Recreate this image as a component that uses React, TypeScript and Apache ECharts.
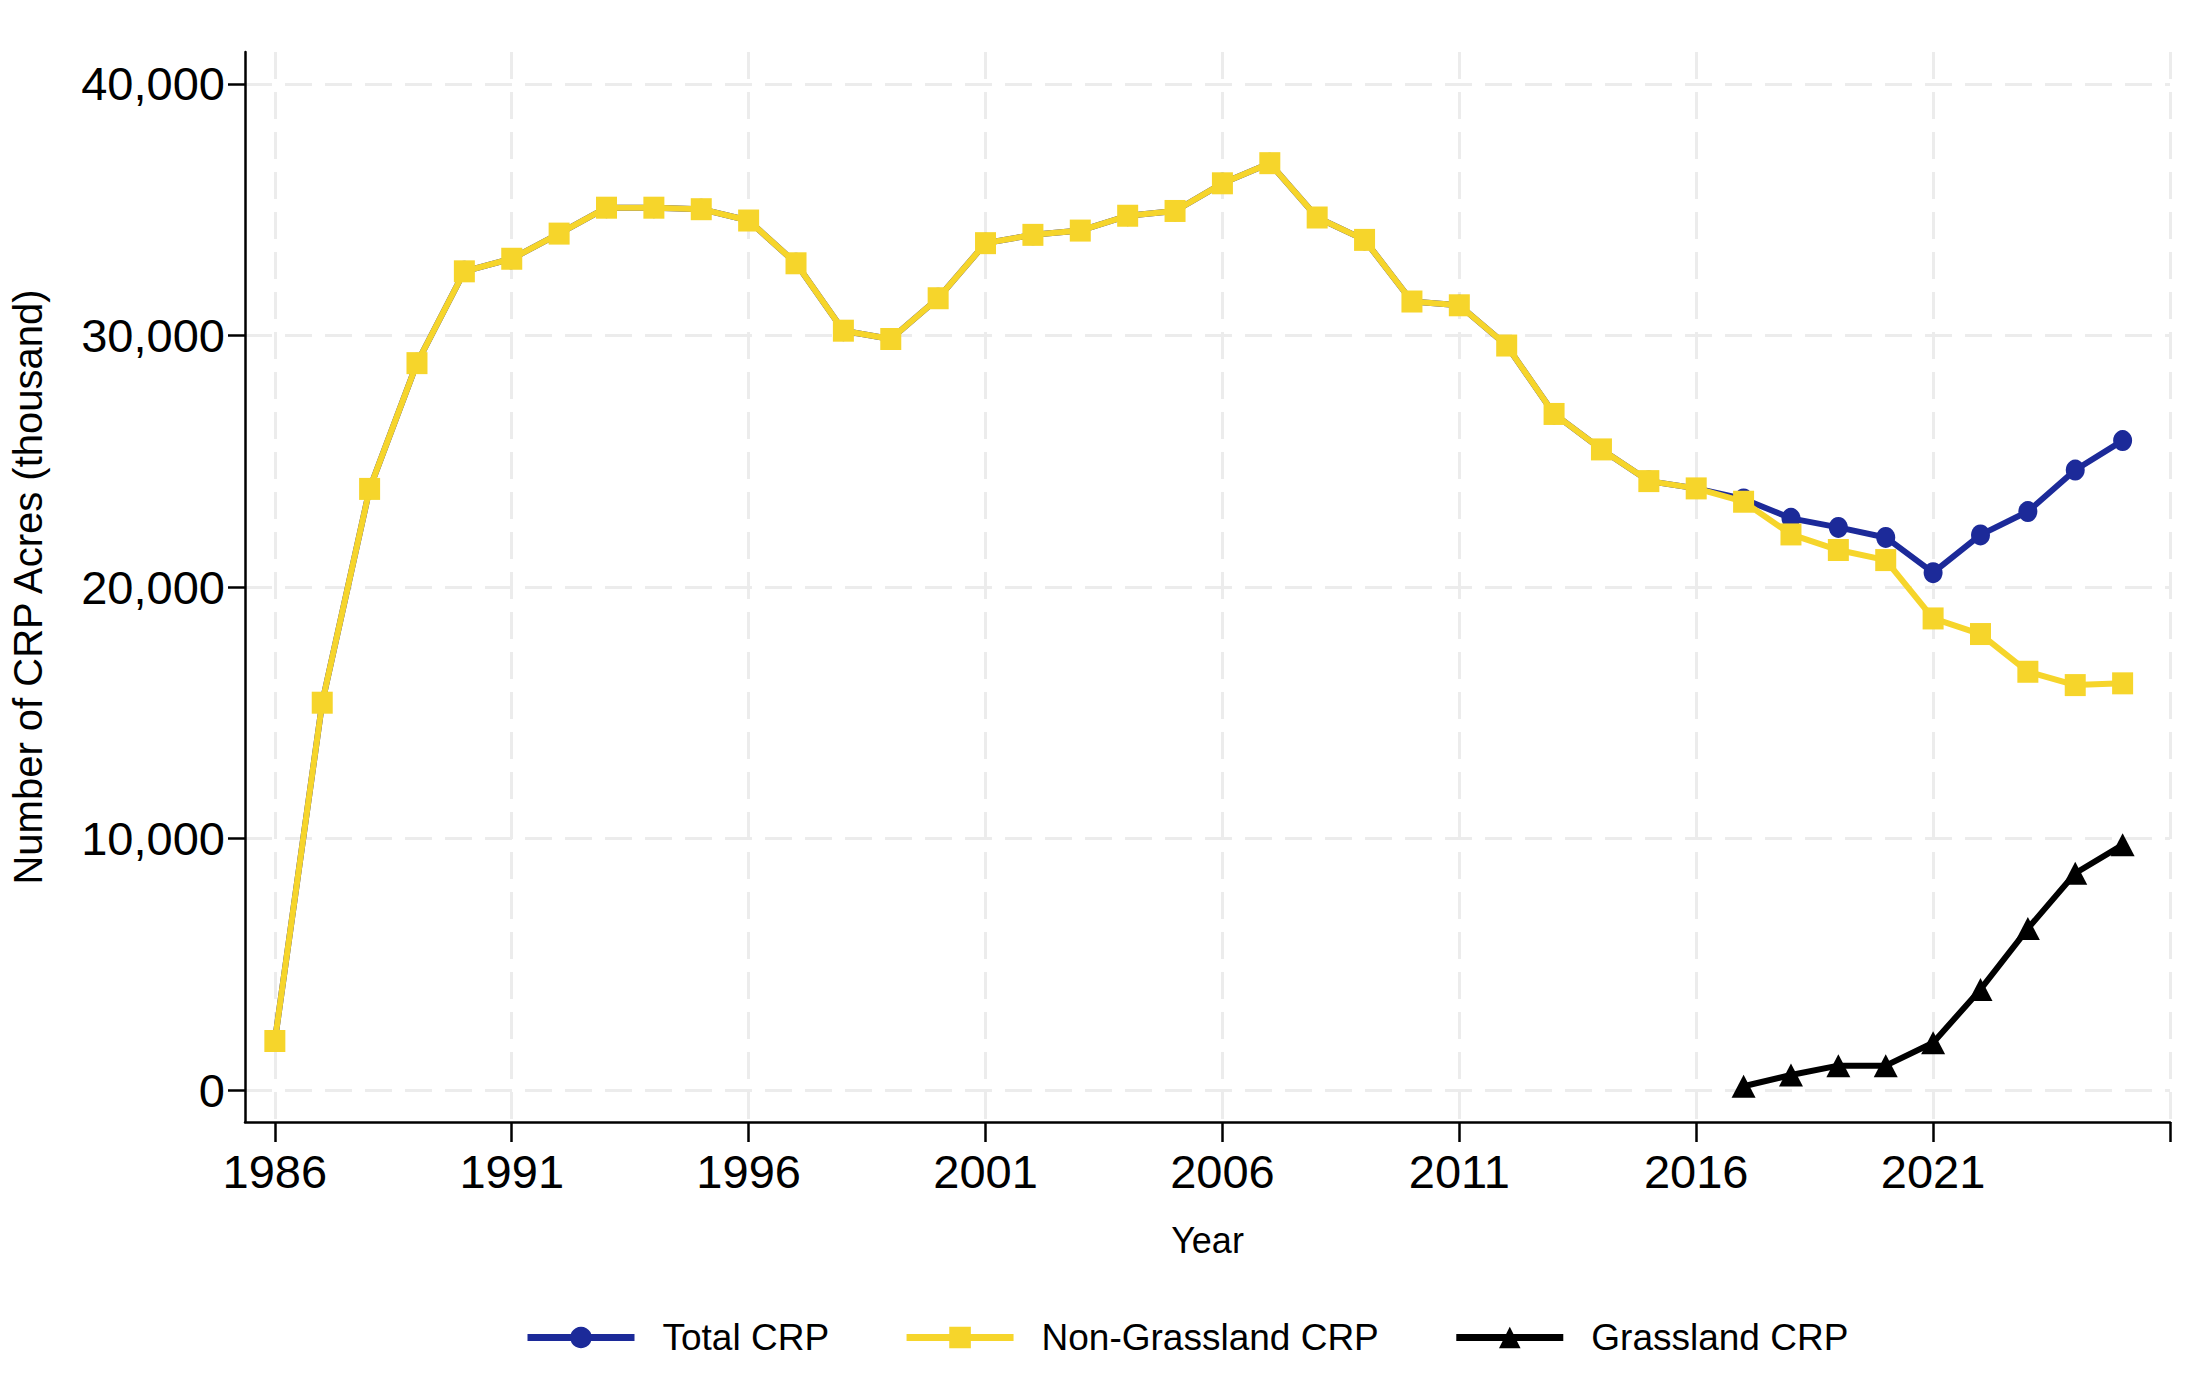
import React, { useEffect, useRef } from "react";
import * as echarts from "echarts";

const years = [
  1986, 1987, 1988, 1989, 1990, 1991, 1992, 1993, 1994, 1995,
  1996, 1997, 1998, 1999, 2000, 2001, 2002, 2003, 2004, 2005,
  2006, 2007, 2008, 2009, 2010, 2011, 2012, 2013, 2014, 2015,
  2016, 2017, 2018, 2019, 2020, 2021, 2022, 2023, 2024, 2025,
];

const nonGrasslandCRP = [
  1950, 15400, 23900, 28900, 32550, 33050, 34050, 35080, 35080, 35020,
  34570, 32870, 30190, 29860, 31480, 33670, 34000, 34170, 34760, 34950,
  36050, 36850, 34690, 33800, 31350, 31200, 29600, 26880, 25470, 24210,
  23920, 23390, 22090, 21470, 21070, 18750, 18130, 16630, 16100, 16170,
];

const totalCRP = [
  1950, 15400, 23900, 28900, 32550, 33050, 34050, 35080, 35080, 35020,
  34570, 32870, 30190, 29860, 31480, 33670, 34000, 34170, 34760, 34950,
  36050, 36850, 34690, 33800, 31350, 31200, 29600, 26880, 25470, 24210,
  23920, 23500, 22730, 22370, 21970, 20570, 22070, 23000, 24650, 25820,
];

const grasslandYears = [2017, 2018, 2019, 2020, 2021, 2022, 2023, 2024, 2025];
const grasslandCRP = [150, 600, 970, 970, 1880, 4000, 6420, 8620, 9750];

const xTickYears = [1986, 1991, 1996, 2001, 2006, 2011, 2016, 2021, 2026];
const xLabelYears = [1986, 1991, 1996, 2001, 2006, 2011, 2016, 2021];
const yTickValues = [0, 10000, 20000, 30000, 40000];

const seriesNames = ["Total CRP", "Non-Grassland CRP", "Grassland CRP"];

const narrow = "'Liberation Sans Narrow', 'Liberation Sans', Arial, sans-serif";
const regular = "'Liberation Sans', Arial, sans-serif";

const BLUE = "#1c2a99";
const YELLOW = "#f6d52b";
const BLACK = "#000000";

function pairs(xs: number[], ys: number[]) {
  return xs.map((x, i) => [x, ys[i]]);
}

export default function App() {
  const ref = useRef<HTMLDivElement>(null);

  useEffect(() => {
    if (!ref.current) return;
    const chart = echarts.init(ref.current, null, { renderer: "svg" });
    const gridLine = { show: true, lineStyle: { color: "#ececec", width: 3, type: [27, 13] } };
    chart.setOption({
      animation: false,
      backgroundColor: "#ffffff",
      grid: { left: 245, right: 30, top: 52, bottom: 278, containLabel: false },
      xAxis: {
        type: "value",
        min: 1985.37,
        max: 2026,
        name: "Year",
        nameLocation: "middle",
        nameGap: 100,
        nameTextStyle: { fontFamily: regular, fontSize: 36, color: "#000" },
        axisLine: { show: true, onZero: false, lineStyle: { color: "#000", width: 2.5 } },
        axisTick: { show: true, length: 20, customValues: xTickYears, lineStyle: { color: "#000", width: 2.5 } },
        axisLabel: {
          customValues: xLabelYears,
          margin: 26,
          fontFamily: narrow,
          fontSize: 47,
          color: "#000",
          formatter: (v: number) => String(v),
        },
        splitLine: gridLine,
      },
      yAxis: {
        type: "value",
        min: -1270,
        max: 41270,
        name: "Number of CRP Acres (thousand)",
        nameLocation: "middle",
        nameGap: 197,
        nameTextStyle: { fontFamily: regular, fontSize: 40, color: "#000" },
        axisLine: { show: true, onZero: false, lineStyle: { color: "#000", width: 2.5 } },
        axisTick: { show: true, length: 17, customValues: yTickValues, lineStyle: { color: "#000", width: 2.5 } },
        axisLabel: {
          customValues: yTickValues,
          margin: 20,
          fontFamily: narrow,
          fontSize: 47,
          color: "#000",
          formatter: (v: number) => v.toLocaleString("en-US"),
        },
        splitLine: gridLine,
      },
      legend: {
        left: 519,
        top: 1314,
        orient: "horizontal",
        itemWidth: 107,
        itemHeight: 27,
        itemGap: 74,
        lineStyle: { width: 7 },
        textStyle: { fontFamily: narrow, fontSize: 37, color: "#000", padding: [0, 0, 0, 23] },
        data: seriesNames,
      },
      series: [
        {
          name: seriesNames[0],
          type: "line",
          data: pairs(years, totalCRP),
          symbol: "circle",
          symbolSize: [19, 21],
          color: BLUE,
          lineStyle: { color: BLUE, width: 6 },
          itemStyle: { color: BLUE },
          z: 2,
        },
        {
          name: seriesNames[1],
          type: "line",
          data: pairs(years, nonGrasslandCRP),
          symbol: "rect",
          symbolSize: [21, 22],
          color: YELLOW,
          lineStyle: { color: YELLOW, width: 6 },
          itemStyle: { color: YELLOW },
          z: 3,
        },
        {
          name: seriesNames[2],
          type: "line",
          data: pairs(grasslandYears, grasslandCRP),
          symbol: "triangle",
          symbolSize: [24, 23],
          color: BLACK,
          lineStyle: { color: BLACK, width: 6 },
          itemStyle: { color: BLACK },
          z: 4,
        },
      ],
    });
    return () => chart.dispose();
  }, []);

  return (
    <div
      ref={ref}
      style={{ position: "absolute", left: 0, top: 0, width: 2200, height: 1400, background: "#fff" }}
    />
  );
}
